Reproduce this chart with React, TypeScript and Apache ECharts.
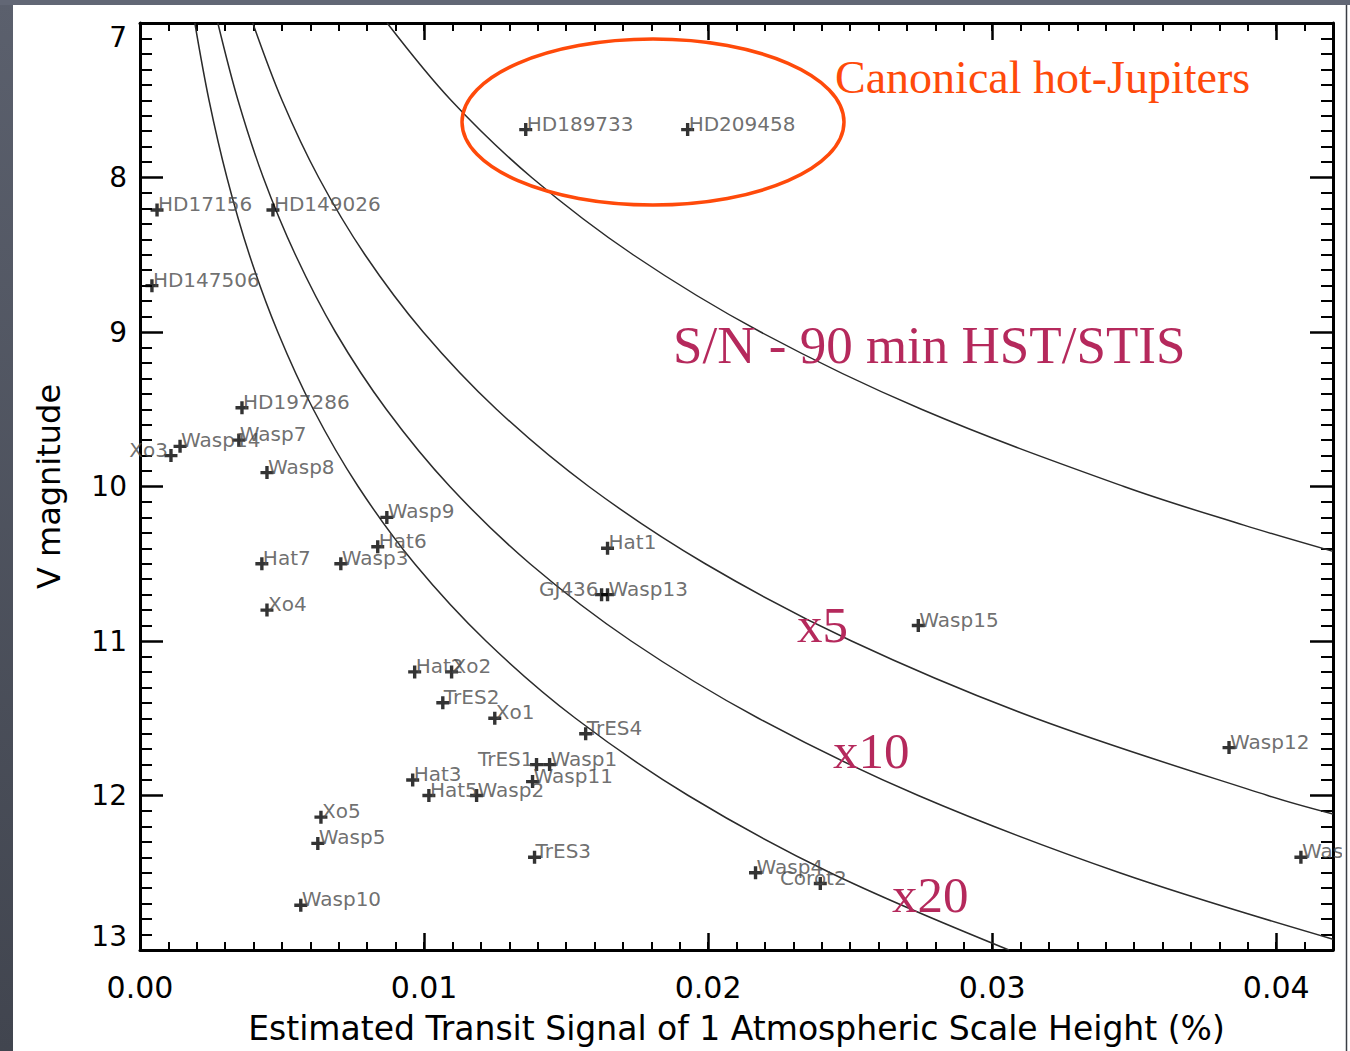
import React, { useEffect, useRef } from 'react';
import * as echarts from 'echarts';

// Planets: estimated transit signal of one scale height (%) and V magnitude
const planetNames = [
  'HD189733', 'HD209458', 'HD17156', 'HD149026', 'HD147506', 'HD197286', 'Wasp7', 'Wasp14',
  'Xo3', 'Wasp8', 'Wasp9', 'Hat6', 'Hat7', 'Wasp3', 'Xo4', 'Hat1', 'GJ436', 'Wasp13', 'Hat2',
  'Xo2', 'TrES2', 'Xo1', 'TrES4', 'TrES1', 'Wasp1', 'Wasp11', 'Hat3', 'Hat5', 'Wasp2', 'Xo5',
  'Wasp5', 'Wasp10', 'TrES3', 'Wasp4', 'Corot2', 'Wasp15', 'Wasp12', 'Wasp6',
];
const planetSignal = [
  0.01358, 0.01928, 0.0006, 0.00468, 0.00042, 0.00359, 0.00348, 0.00141,
  0.00109, 0.00447, 0.00869, 0.00837, 0.00429, 0.00707, 0.00447, 0.01646, 0.01625, 0.01646, 0.00967,
  0.01097, 0.01066, 0.01249, 0.01569, 0.01396, 0.01442, 0.01382, 0.0096, 0.01017, 0.01185, 0.00637,
  0.00626, 0.00566, 0.01389, 0.02167, 0.02395, 0.0274, 0.03834, 0.04087,
];
const planetVmag = [
  7.69, 7.69, 8.21, 8.21, 8.7, 9.49, 9.7, 9.74,
  9.8, 9.91, 10.2, 10.39, 10.5, 10.5, 10.8, 10.4, 10.7, 10.7, 11.2,
  11.2, 11.4, 11.5, 11.6, 11.8, 11.8, 11.91, 11.9, 12.0, 12.0, 12.14,
  12.31, 12.71, 12.4, 12.5, 12.57, 10.9, 11.69, 12.4,
];
// Labels drawn to the left of / centred on their marker
const leftLabeled = ['Xo3', 'GJ436', 'TrES1'];
const centerLabeled = ['Corot2'];

// Constant S/N curves (signal, V magnitude) for a 90 min HST/STIS visit
const curveSN1: [number, number][] = [
  [0.0087, 7], [0.01095, 7.5], [0.01379, 8], [0.01736, 8.5], [0.02185, 9],
  [0.02751, 9.5], [0.03464, 10], [0.03886, 10.25], [0.042, 10.42],
];
const curveX5: [number, number][] = [
  [0.00397, 7], [0.005, 7.5], [0.00629, 8], [0.00792, 8.5], [0.00997, 9], [0.01255, 9.5],
  [0.0158, 10], [0.0199, 10.5], [0.02505, 11], [0.03153, 11.5], [0.0397, 12], [0.042, 12.12],
];
const curveX10: [number, number][] = [
  [0.00274, 7], [0.00345, 7.5], [0.00434, 8], [0.00547, 8.5], [0.00688, 9], [0.00867, 9.5],
  [0.01091, 10], [0.01373, 10.5], [0.01729, 11], [0.02177, 11.5], [0.0274, 12], [0.03449, 12.5],
  [0.042, 12.93],
];
const curveX20: [number, number][] = [
  [0.00193, 7], [0.00243, 7.5], [0.00306, 8], [0.00385, 8.5], [0.00485, 9], [0.0061, 9.5],
  [0.00768, 10], [0.00967, 10.5], [0.01218, 11], [0.01533, 11.5], [0.0193, 12], [0.0243, 12.5],
  [0.03059, 13],
];

const xTickMajor = 0.01;
const xTickMinor = 0.001;
const xMax = 0.042;
const vMin = 7;
const vMax = 13;

const SANS = 'DejaVu Sans';
const SERIF = 'Liberation Serif, Times New Roman, serif';
const PLUS = 'path://M4.8,0H8.2V4.8H13V8.2H8.2V13H4.8V8.2H0V4.8H4.8Z';

function buildOption() {
  const gridRect = { left: 140, top: 23, right: 17, bottom: 101 };

  const planetData = planetNames.map((name, i) => {
    let label: any = { position: [7.5, 0.5], align: 'left' };
    if (leftLabeled.includes(name)) label = { position: [3.5, 0.5], align: 'right' };
    else if (centerLabeled.includes(name)) label = { position: [-0.5, 0.5], align: 'center' };
    return { name, value: [planetSignal[i], planetVmag[i]], label };
  });

  const majorX = (position: string, labels: boolean) => ({
    type: 'value',
    gridIndex: 0,
    position,
    min: 0,
    max: xMax,
    interval: xTickMajor,
    axisLine: { show: true, onZero: false, lineStyle: { color: '#000', width: 3 } },
    axisTick: { show: true, inside: true, length: 17, lineStyle: { color: '#000', width: 2.5 } },
    splitLine: { show: false },
    axisLabel: {
      show: labels,
      fontFamily: SANS,
      fontSize: 30,
      color: '#000',
      margin: 22,
      formatter: (v: number) =>
        Math.abs(v / xTickMajor - Math.round(v / xTickMajor)) < 1e-6 ? v.toFixed(2) : '',
    },
    ...(labels
      ? {
          name: 'Estimated Transit Signal of 1 Atmospheric Scale Height (%)',
          nameLocation: 'middle',
          nameGap: 62,
          nameTextStyle: { fontFamily: SANS, fontSize: 33, color: '#000' },
        }
      : {}),
  });

  const minorX = (position: string) => ({
    type: 'value',
    gridIndex: 1,
    position,
    min: 0,
    max: xMax,
    interval: xTickMinor,
    axisLine: { show: false, onZero: false },
    axisTick: { show: true, inside: true, length: 8, lineStyle: { color: '#000', width: 2 } },
    splitLine: { show: false },
    axisLabel: { show: false },
  });

  const mainY = (position: string, labels: boolean) => ({
    type: 'value',
    gridIndex: 0,
    position,
    inverse: true,
    min: vMin,
    max: vMax,
    interval: 1,
    axisLine: { show: true, onZero: false, lineStyle: { color: '#000', width: 3 } },
    axisTick: { show: true, inside: true, length: 23, lineStyle: { color: '#000', width: 2.5 } },
    minorTick: { show: true, splitNumber: 10, length: 12, lineStyle: { color: '#000', width: 2 } },
    splitLine: { show: false },
    minorSplitLine: { show: false },
    axisLabel: {
      show: labels,
      fontFamily: SANS,
      fontSize: 28,
      color: '#000',
      margin: 13,
      verticalAlignMinLabel: 'top',
      verticalAlignMaxLabel: 'bottom',
    },
    ...(labels
      ? {
          name: 'V magnitude',
          nameLocation: 'middle',
          nameGap: 75,
          nameTextStyle: { fontFamily: SANS, fontSize: 32, color: '#000' },
        }
      : {}),
  });

  const curveSeries = (name: string, data: [number, number][]) => ({
    type: 'line',
    name,
    xAxisIndex: 0,
    yAxisIndex: 0,
    data,
    smooth: 0.35,
    showSymbol: false,
    symbol: 'none',
    clip: true,
    lineStyle: { color: '#2b2b2b', width: 1.5 },
    z: 2,
    silent: true,
  });

  return {
    animation: false,
    backgroundColor: '#ffffff',
    grid: [
      { ...gridRect, containLabel: false },
      { ...gridRect, containLabel: false },
    ],
    xAxis: [majorX('bottom', true), majorX('top', false), minorX('bottom'), minorX('top')],
    yAxis: [
      mainY('left', true),
      mainY('right', false),
      { type: 'value', gridIndex: 1, show: false, inverse: true, min: vMin, max: vMax },
    ],
    series: [
      curveSeries('S/N', curveSN1),
      curveSeries('x5', curveX5),
      curveSeries('x10', curveX10),
      curveSeries('x20', curveX20),
      {
        type: 'scatter',
        name: 'planets',
        xAxisIndex: 0,
        yAxisIndex: 0,
        symbol: PLUS,
        symbolSize: 13,
        itemStyle: { color: '#000' },
        data: planetData,
        z: 5,
        label: {
          show: true,
          formatter: '{b}',
          verticalAlign: 'middle',
          fontFamily: SANS,
          fontSize: 20,
          color: '#4a4a4a',
        },
      },
    ],
    graphic: [
      // slide background showing round the figure
      {
        type: 'rect',
        z: 100,
        shape: { x: 0, y: 0, width: 13, height: 1051 },
        style: {
          fill: new echarts.graphic.LinearGradient(0, 0, 0, 1, [
            { offset: 0, color: '#5b606d' },
            { offset: 1, color: '#41454f' },
          ]),
        },
      },
      { type: 'rect', z: 100, shape: { x: 0, y: 0, width: 1350, height: 5 }, style: { fill: '#626775' } },
      { type: 'rect', z: 100, shape: { x: 1342, y: 5, width: 8, height: 1046 }, style: { fill: '#ffffff' } },
      {
        type: 'line',
        z: 101,
        shape: { x1: 1346.5, y1: 5, x2: 1346.5, y2: 1051 },
        style: { stroke: '#3a3d44', lineWidth: 1.5 },
      },
      // annotations
      {
        type: 'ellipse',
        z: 50,
        shape: { cx: 653, cy: 122, rx: 191, ry: 83 },
        style: { fill: 'none', stroke: '#FF4A0A', lineWidth: 3.5 },
      },
      {
        type: 'text',
        z: 50,
        x: 835,
        y: 77,
        style: {
          text: 'Canonical hot-Jupiters',
          fontFamily: SERIF,
          fontSize: 46,
          fill: '#FF4A0A',
          verticalAlign: 'middle',
        },
      },
      {
        type: 'text',
        z: 50,
        x: 673,
        y: 345,
        style: {
          text: 'S/N - 90 min HST/STIS',
          fontFamily: SERIF,
          fontSize: 53,
          fill: '#B5295C',
          verticalAlign: 'middle',
        },
      },
      {
        type: 'text',
        z: 50,
        x: 797,
        y: 625,
        style: { text: 'x5', fontFamily: SERIF, fontSize: 51, fill: '#B5295C', verticalAlign: 'middle' },
      },
      {
        type: 'text',
        z: 50,
        x: 833,
        y: 751,
        style: { text: 'x10', fontFamily: SERIF, fontSize: 51, fill: '#B5295C', verticalAlign: 'middle' },
      },
      {
        type: 'text',
        z: 50,
        x: 892,
        y: 895,
        style: { text: 'x20', fontFamily: SERIF, fontSize: 51, fill: '#B5295C', verticalAlign: 'middle' },
      },
    ],
  };
}

export default function App() {
  const ref = useRef<HTMLDivElement>(null);
  useEffect(() => {
    document.body.style.margin = '0';
    const chart = echarts.init(ref.current as HTMLDivElement, null, { renderer: 'svg' });
    chart.setOption(buildOption() as any);
    return () => chart.dispose();
  }, []);
  return <div ref={ref} style={{ width: 1350, height: 1051 }} />;
}
